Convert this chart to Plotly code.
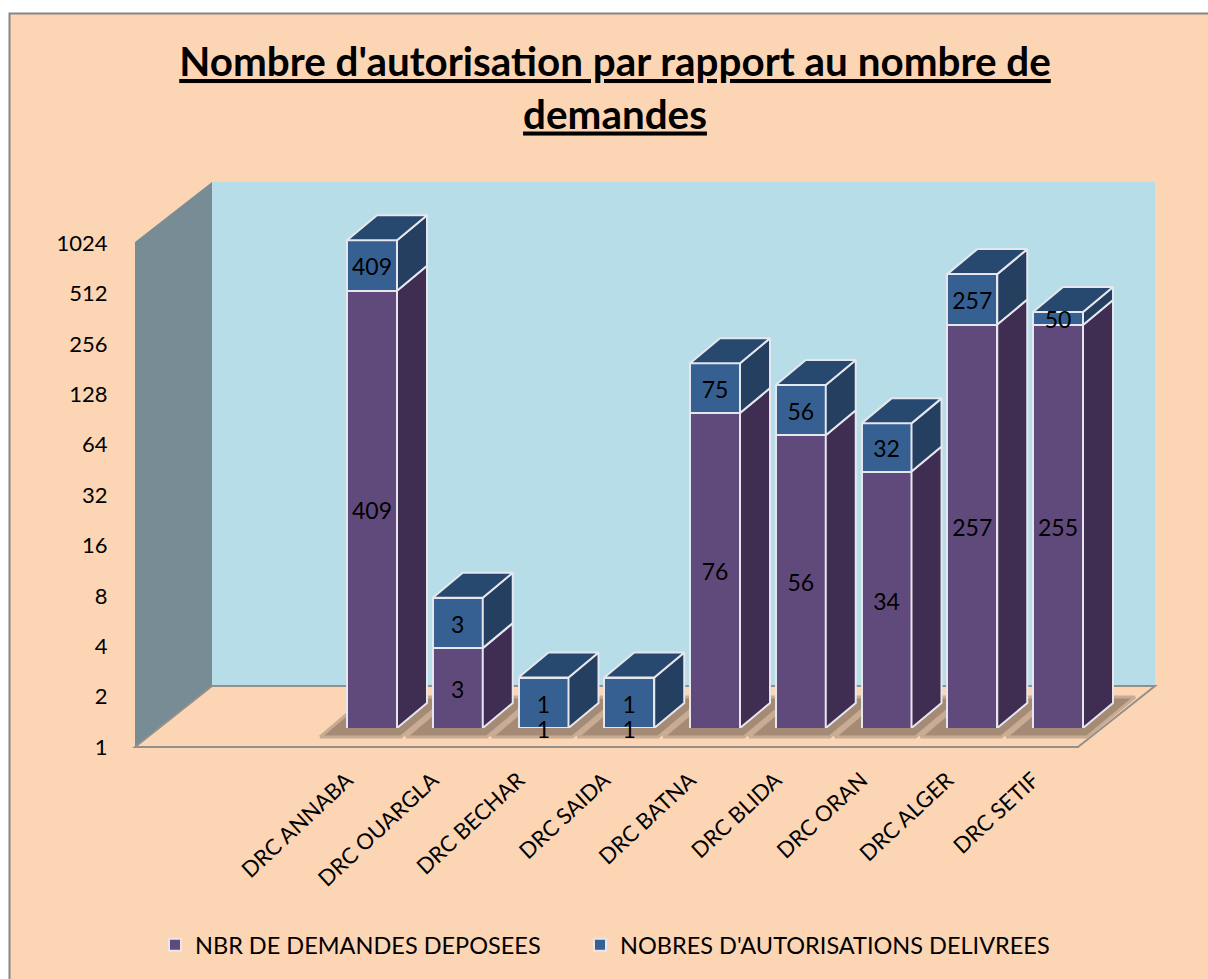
import plotly.graph_objects as go

# ---------- data ----------
categories = ["DRC ANNABA", "DRC OUARGLA", "DRC BECHAR", "DRC SAIDA", "DRC BATNA",
              "DRC BLIDA", "DRC ORAN", "DRC ALGER", "DRC SETIF"]
demandes = [409, 3, 1, 1, 76, 56, 34, 257, 255]
autorisations = [409, 3, 1, 1, 75, 56, 32, 257, 50]
y_ticks = [1, 2, 4, 8, 16, 32, 64, 128, 256, 512, 1024]
series_names = ["NBR DE DEMANDES DEPOSEES", "NOBRES D'AUTORISATIONS DELIVREES"]
title_text = "<b><u>Nombre d'autorisation par rapport au nombre de</u></b><br><b><u>demandes</u></b>"

# ---------- styling / layout constants (pixels of the 1208x979 page) ----------
W, H = 1208, 979
PL, PR, PT, PB = 135, 1165, 170, 747      # plot area
FRONT_R = 1078                            # right end of the front floor edge
BAR_BASE = 728                            # pixel row of value 1 for the bars
STEP = 50.4                               # pixels per doubling
SLOT = 85.75                              # pixels per category
X0 = 372                                  # pixel of first category centre
DX_PX, DY_PX = 30, 25                     # bar depth
WALL_DX, WALL_DY = 77, 61                 # wall depth
BAR_W = 50 / SLOT
LABEL_NUDGE = 2 ** (-4 / STEP)            # data labels sit slightly low
TICK_SHIFT = -25 / SLOT                   # category labels end left of the bar centre
LOG2 = 0.30103
FONT = "Lato"
C_PURPLE, C_PURPLE_SIDE, C_PURPLE_TOP = "#604A7B", "#3F2D52", "#4A3860"
C_BLUE, C_BLUE_SIDE, C_BLUE_TOP = "#376092", "#243F5F", "#28496F"
C_EDGE = "#E6E6EE"
C_BG, C_BACK, C_LEFT, C_FLOOR_LINE = "#FCD5B5", "#B7DEE8", "#778C94", "#93908C"
C_SHADOW, C_SHADOW_EDGE = "#A58B76", "#C8AB93"

pw, ph = PR - PL, PB - PT
xp = lambda p: (p - PL) / pw
yp = lambda p: (PB - p) / ph
poly = lambda pts: "M" + " L".join(f"{xp(a):.5f},{yp(b):.5f}" for a, b in pts) + " Z"
n = len(categories)
dx = DX_PX / SLOT
k = 2 ** (DY_PX / STEP)
idx = list(range(n))
totals = [a + b for a, b in zip(demandes, autorisations)]

fig = go.Figure()

# Invisible trace that carries the value axis
fig.add_trace(go.Scatter(x=[0] * len(y_ticks), y=y_ticks, mode="none", showlegend=False,
                         hoverinfo="skip", xaxis="x", yaxis="y"))

# Floor shadows
for i in idx:
    L, R = i - BAR_W / 2, i + BAR_W / 2
    low = 2 ** (10 / STEP)
    high = 2 ** (50 / STEP)
    xs = [L - 27 / SLOT, R + 4 / SLOT, R + 52 / SLOT, L + 20 / SLOT, L - 27 / SLOT]
    ys = [low, low, high, high, low]
    fig.add_trace(go.Scatter(x=xs, y=ys, mode="lines", fill="toself", fillcolor=C_SHADOW,
                             line=dict(width=3, color=C_SHADOW_EDGE), showlegend=False, hoverinfo="skip",
                             xaxis="x", yaxis="y"))

# Front faces: real stacked bars
fig.add_trace(go.Bar(x=idx, y=demandes, name=series_names[0], xaxis="x", yaxis="y2", legendwidth=380,
                     marker=dict(color=C_PURPLE, line=dict(color=C_EDGE, width=2))))
fig.add_trace(go.Bar(x=idx, y=autorisations, name=series_names[1], xaxis="x", yaxis="y2", legendwidth=440,
                     marker=dict(color=C_BLUE, line=dict(color=C_EDGE, width=2))))


def face(xs, ys, color):
    fig.add_trace(go.Scatter(x=xs, y=ys, mode="lines", fill="toself", fillcolor=color,
                             line=dict(color=C_EDGE, width=2), showlegend=False,
                             hoverinfo="skip", xaxis="x", yaxis="y2"))


# Side and top faces
for i in idx:
    R, L = i + BAR_W / 2, i - BAR_W / 2
    d, t = demandes[i], totals[i]
    if d > 1:
        face([R, R + dx, R + dx, R, R], [1, k, d * k, d, 1], C_PURPLE_SIDE)
    face([R, R + dx, R + dx, R, R], [d, d * k, t * k, t, d], C_BLUE_SIDE)
    face([L, L + dx, R + dx, R, L], [t, t * k, t * k, t, t], C_BLUE_TOP)

# Data labels (on their own axis, which shares the bars' scale but reaches below value 1)
fig.add_trace(go.Scatter(x=idx, y=[v ** 0.5 * LABEL_NUDGE for v in demandes], mode="text",
                         text=[str(v) for v in demandes], textposition="middle center",
                         textfont=dict(family=FONT, size=23, color="#000"), showlegend=False,
                         hoverinfo="skip", cliponaxis=False, xaxis="x", yaxis="y3"))
fig.add_trace(go.Scatter(x=idx, y=[(a * b) ** 0.5 * LABEL_NUDGE for a, b in zip(demandes, totals)], mode="text",
                         text=[str(v) for v in autorisations], textposition="middle center",
                         textfont=dict(family=FONT, size=23, color="#000"), showlegend=False,
                         hoverinfo="skip", cliponaxis=False, xaxis="x", yaxis="y3"))

shapes = [
    dict(type="rect", xref="paper", yref="paper", x0=xp(9.5), x1=xp(1230), y0=yp(13.5), y1=yp(1000),
         fillcolor=C_BG, line=dict(color="#868686", width=2), layer="below"),
    dict(type="path", xref="paper", yref="paper", layer="below", fillcolor=C_BACK, line=dict(width=0),
         path=poly([(PL + WALL_DX, 182), (FRONT_R + WALL_DX, 182), (FRONT_R + WALL_DX, PB - WALL_DY), (PL + WALL_DX, PB - WALL_DY)])),
    dict(type="path", xref="paper", yref="paper", layer="below", fillcolor=C_LEFT, line=dict(width=0),
         path=poly([(PL, 242), (PL + WALL_DX, 182), (PL + WALL_DX, PB - WALL_DY), (PL, PB)])),
    dict(type="path", xref="paper", yref="paper", layer="below", fillcolor=C_BG,
         line=dict(color=C_FLOOR_LINE, width=2),
         path=poly([(PL, PB), (PL + WALL_DX, PB - WALL_DY), (FRONT_R + WALL_DX, PB - WALL_DY), (FRONT_R, PB)])),
]

fig.update_layout(
    width=W, height=H, margin=dict(l=PL, r=W - PR, t=PT, b=H - PB),
    paper_bgcolor="#FFFFFF", plot_bgcolor="rgba(0,0,0,0)",
    barmode="stack", bargap=1 - BAR_W,
    font=dict(family=FONT, color="#000"),
    title=dict(text=title_text, x=615 / W, xanchor="center", y=1 - 76 / H, yanchor="middle",
               font=dict(family=FONT, size=40.4, color="#000")),
    shapes=shapes,
    xaxis=dict(type="linear", range=[(PL - X0) / SLOT, (PR - X0) / SLOT], domain=[0, 1],
               anchor="y", tickmode="array", tickvals=[i + TICK_SHIFT for i in idx],
               ticktext=categories, tickangle=-43, ticklabelstandoff=15,
               showgrid=False, zeroline=False, showline=False, ticks="",
               tickfont=dict(family=FONT, size=22)),
    yaxis=dict(type="log", range=[0, ph / STEP * LOG2], domain=[0, 1], anchor="x",
               tickmode="array", tickvals=y_ticks, ticktext=[str(v) for v in y_ticks],
               showgrid=False, zeroline=False, showline=False, ticks="outside", ticklen=22,
               tickcolor="rgba(0,0,0,0)", tickfont=dict(family=FONT, size=22)),
    yaxis2=dict(type="log", range=[0, (BAR_BASE - PT) / STEP * LOG2],
                domain=[(PB - BAR_BASE) / ph, 1], anchor="x", showgrid=False, zeroline=False,
                showline=False, showticklabels=False, ticks=""),
    yaxis3=dict(type="log", range=[-(PB - BAR_BASE) / STEP * LOG2, (BAR_BASE - PT) / STEP * LOG2],
                domain=[0, 1], anchor="x", showgrid=False, zeroline=False,
                showline=False, showticklabels=False, ticks=""),
    legend=dict(orientation="h", x=xp(155), xanchor="left", y=yp(945), yanchor="middle", xref="paper",
                font=dict(family=FONT, size=23.5), bgcolor="rgba(0,0,0,0)", traceorder="normal"),
)

fig.write_html("out.html", config=dict(displayModeBar=False),
               post_script="document.body.style.margin='0';document.documentElement.style.overflow='hidden';")
